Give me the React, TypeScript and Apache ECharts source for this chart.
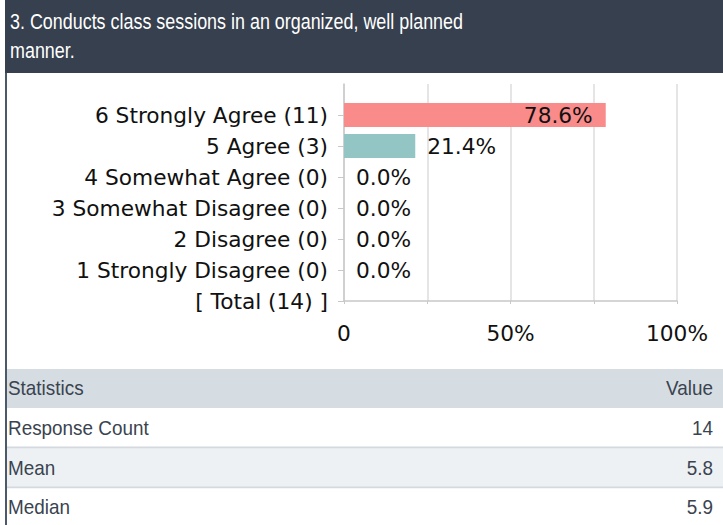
import React, { useEffect, useRef } from "react";
import * as echarts from "echarts";

const titleLines = ["3. Conducts class sessions in an organized, well planned", "manner."];
const categories = [
  "",
  "6 Strongly Agree (11)",
  "5 Agree (3)",
  "4 Somewhat Agree (0)",
  "3 Somewhat Disagree (0)",
  "2 Disagree (0)",
  "1 Strongly Disagree (0)",
  "[ Total (14) ]",
];
const percents: (number | null)[] = [null, 78.6, 21.4, 0, 0, 0, 0, null];
const barColors = ["#f98b8b", "#f98b8b", "#93c5c5", "#93c5c5", "#93c5c5", "#93c5c5", "#93c5c5", "#93c5c5"];
const xTicks = [0, 25, 50, 75, 100];
const xTickLabels: Record<number, string> = { 0: "0", 50: "50%", 100: "100%" };
const statHeader = ["Statistics", "Value"];
const statNames = ["Response Count", "Mean", "Median"];
const statValues = ["14", "5.8", "5.9"];

const CHART_FONT = "'DejaVu Sans', sans-serif";
const UI_FONT = "'Liberation Sans', Arial, sans-serif";

export default function App() {
  const ref = useRef<HTMLDivElement>(null);
  useEffect(() => {
    document.body.style.margin = "0";
    const chart = echarts.init(ref.current!, null, { renderer: "svg" });

    const data = percents.map((v, i) => {
      if (v === null) return { value: "-" };
      const inside = i === 1;
      return {
        value: v,
        itemStyle: { color: barColors[i] },
        label: {
          show: true,
          position: inside ? "insideRight" : "right",
          distance: inside ? 13 : 12,
          formatter: (p: any) => Number(p.value).toFixed(1) + "%",
          color: "#111",
          fontFamily: CHART_FONT,
          fontSize: 21.7,
        },
      };
    });

    const rowTop = [408, 448, 488];
    const rowH = [39.5, 39, 37];
    const statText = (text: string, x: number, y: number, right: boolean) => ({
      type: "text",
      x,
      y,
      scaleX: 0.9,
      style: {
        text,
        fill: "#3a4350",
        font: `21px ${UI_FONT}`,
        verticalAlign: "middle",
        align: right ? "right" : "left",
      },
    });
    const graphics: any[] = [
      { type: "rect", shape: { x: 5, y: 0, width: 718, height: 73 }, style: { fill: "#36404e" } },
      { type: "rect", shape: { x: 5, y: 73, width: 2, height: 452 }, style: { fill: "#4b596b" } },
      {
        type: "text",
        x: 10,
        y: 7,
        scaleX: 0.815,
        style: {
          text: titleLines.join("\n"),
          fill: "#ffffff",
          font: `22px ${UI_FONT}`,
          lineHeight: 29,
        },
      },
      { type: "rect", shape: { x: 7, y: 369, width: 716, height: 39 }, style: { fill: "#d6dde2" } },
      { type: "rect", shape: { x: 7, y: 448, width: 716, height: 39 }, style: { fill: "#edf1f4" } },
      { type: "rect", shape: { x: 7, y: 446.5, width: 716, height: 1.8 }, style: { fill: "#d3d9de" } },
      { type: "rect", shape: { x: 7, y: 486.5, width: 716, height: 1.8 }, style: { fill: "#d3d9de" } },
      statText(statHeader[0], 8, 388, false),
      statText(statHeader[1], 713, 388, true),
    ];
    statNames.forEach((n, i) => {
      const cy = rowTop[i] + rowH[i] / 2;
      graphics.push(statText(n, 8, cy, false));
      graphics.push(statText(statValues[i], 713, cy, true));
    });

    chart.setOption({
      animation: false,
      backgroundColor: "#ffffff",
      grid: { left: 344, top: 84, width: 333, height: 217, containLabel: false },
      xAxis: {
        type: "value",
        min: xTicks[0],
        max: xTicks[xTicks.length - 1],
        interval: 25,
        axisLine: { show: true, lineStyle: { color: "#c8c8c8", width: 1.5 } },
        axisTick: { show: true, length: 3, lineStyle: { color: "#c8c8c8" } },
        splitLine: { show: true, lineStyle: { color: "#dcdcdc", width: 1.5 } },
        axisLabel: {
          margin: 21,
          color: "#111",
          fontFamily: CHART_FONT,
          fontSize: 21.7,
          formatter: (v: number) => xTickLabels[v] ?? "",
        },
      },
      yAxis: {
        type: "category",
        data: categories,
        inverse: true,
        boundaryGap: false,
        axisLine: { show: true, lineStyle: { color: "#c8c8c8", width: 1.5 } },
        axisTick: {
          show: true,
          length: 6,
          interval: (i: number) => i > 0,
          lineStyle: { color: "#c8c8c8" },
        },
        axisLabel: {
          margin: 16,
          color: "#111",
          fontFamily: CHART_FONT,
          fontSize: 21.7,
          interval: 0,
        },
        splitLine: { show: false },
      },
      series: [
        {
          type: "bar",
          data,
          barWidth: 24,
          silent: true,
        },
      ],
      graphic: graphics,
    });
    return () => chart.dispose();
  }, []);
  return <div ref={ref} style={{ width: 723, height: 525 }} />;
}
